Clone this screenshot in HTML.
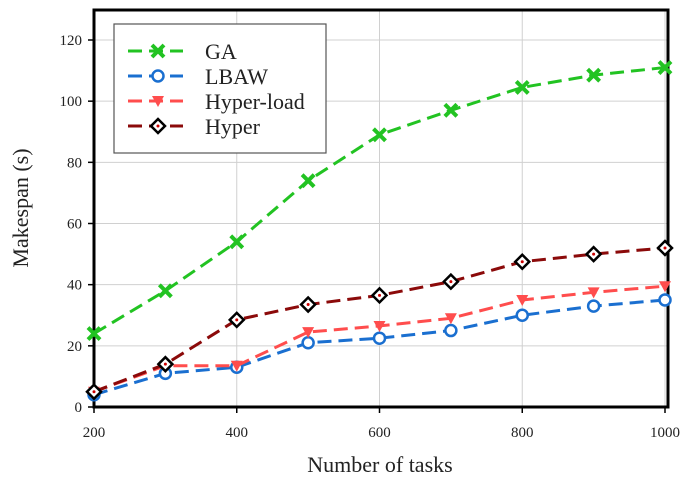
<!DOCTYPE html>
<html><head><meta charset="utf-8"><style>
body{margin:0;background:#fff}
svg text{font-family:"Liberation Serif",serif;fill:#222}
</style></head><body>
<svg id="c" width="685" height="484"></svg>
<script>
const categories=[200,300,400,500,600,700,800,900,1000];
const gaValues=[24,38,54,74,89,97,104.5,108.5,111];
const lbawValues=[4,11,13,21,22.5,25,30,33,35];
const hyperLoadValues=[5,13.5,13.5,24.5,26.5,29,35,37.5,39.5];
const hyperValues=[5,14,28.5,33.5,36.5,41,47.5,50,52];
const xTicks=[200,400,600,800,1000];
const yTicks=[0,20,40,60,80,100,120];
const svg=document.getElementById('c');
const NS='http://www.w3.org/2000/svg';
const X0=94,X1=665,Y0=407,Y120=40;
const x=v=>X0+(v-200)/800*(X1-X0);
const y=v=>Y0-v/120*(Y0-Y120);
function mk(t,a,p){const e=document.createElementNS(NS,t);for(const k in a)e.setAttribute(k,a[k]);(p||svg).appendChild(e);return e;}
// grid
xTicks.forEach(v=>{const l=mk('line',{x1:x(v),x2:x(v),y1:10,y2:Y0,stroke:'#d0d0d0','stroke-width':1});

});
yTicks.forEach(v=>{const l=mk('line',{x1:X0,x2:668,y1:y(v),y2:y(v),stroke:'#d0d0d0','stroke-width':1});

});
// frame
const fr=mk('rect',{x:X0,y:10,width:668-X0,height:Y0-10,fill:'none',stroke:'#000','stroke-width':3});


// ticks & labels
xTicks.forEach(v=>{mk('line',{x1:x(v),x2:x(v),y1:Y0,y2:Y0+6,stroke:'#000','stroke-width':1.5});
const t=mk('text',{x:x(v),y:Y0+30,'text-anchor':'middle','font-size':15});t.textContent=v;

});
yTicks.forEach(v=>{mk('line',{x1:X0-6,x2:X0,y1:y(v),y2:y(v),stroke:'#000','stroke-width':1.5});
const t=mk('text',{x:X0-12,y:y(v)+5,'text-anchor':'end','font-size':15});t.textContent=v;

});
const xt=mk('text',{x:380,y:472,'text-anchor':'middle','font-size':22});xt.textContent='Number of tasks';


const yt=mk('text',{x:0,y:0,'text-anchor':'middle','font-size':22,transform:'translate(28,208) rotate(-90)'});yt.textContent='Makespan (s)';


function marker(kind,cx,cy,col,g){
 if(kind==='x'){const d=6;mk('path',{d:`M${cx-d},${cy-d}L${cx+d},${cy+d}M${cx-d},${cy+d}L${cx+d},${cy-d}`,stroke:col,'stroke-width':4},g);}
 else if(kind==='o'){mk('circle',{cx,cy,r:5.5,fill:'#fff',stroke:col,'stroke-width':2.5},g);}
 else if(kind==='v'){mk('path',{d:`M${cx-6},${cy-5}L${cx+6},${cy-5}L${cx},${cy+6}Z`,fill:col},g);}
 else {mk('path',{d:`M${cx},${cy-7}L${cx+7},${cy}L${cx},${cy+7}L${cx-7},${cy}Z`,fill:'#fff',stroke:'#000','stroke-width':2.5},g);mk('circle',{cx,cy,r:1.5,fill:'#c00'},g);}
}
const series=[
 {name:'GA',vals:gaValues,col:'#22c322',m:'x',id:'series-ga'},
 {name:'LBAW',vals:lbawValues,col:'#1a6fd0',m:'o',id:'series-lbaw'},
 {name:'Hyper-load',vals:hyperLoadValues,col:'#ff4d4d',m:'v',id:'series-hyper-load'},
 {name:'Hyper',vals:hyperValues,col:'#8b0a0a',m:'d',id:'series-hyper'}];
series.forEach(s=>{
 const g=mk('g',{});
 
 
 mk('polyline',{points:s.vals.map((v,i)=>x(categories[i])+','+y(v)).join(' '),fill:'none',stroke:s.col,'stroke-width':3,'stroke-dasharray':'14,7'},g);
 s.vals.forEach((v,i)=>marker(s.m,x(categories[i]),y(v),s.col,g));
});
// legend
const lg=mk('g',{});


mk('rect',{x:114,y:24,width:212,height:129,fill:'#fff',stroke:'#555','stroke-width':1.2},lg);
series.forEach((s,i)=>{
 const yy=51+i*25;
 const e=mk('g',{},lg);
 
 
 mk('line',{x1:128,x2:183,y1:yy,y2:yy,stroke:s.col,'stroke-width':3,'stroke-dasharray':'14,7'},e);
 marker(s.m,158,yy,s.col,e);
 const t=mk('text',{x:205,y:yy+8,'font-size':22},e);t.textContent=s.name;
});
</script>
</body></html>
